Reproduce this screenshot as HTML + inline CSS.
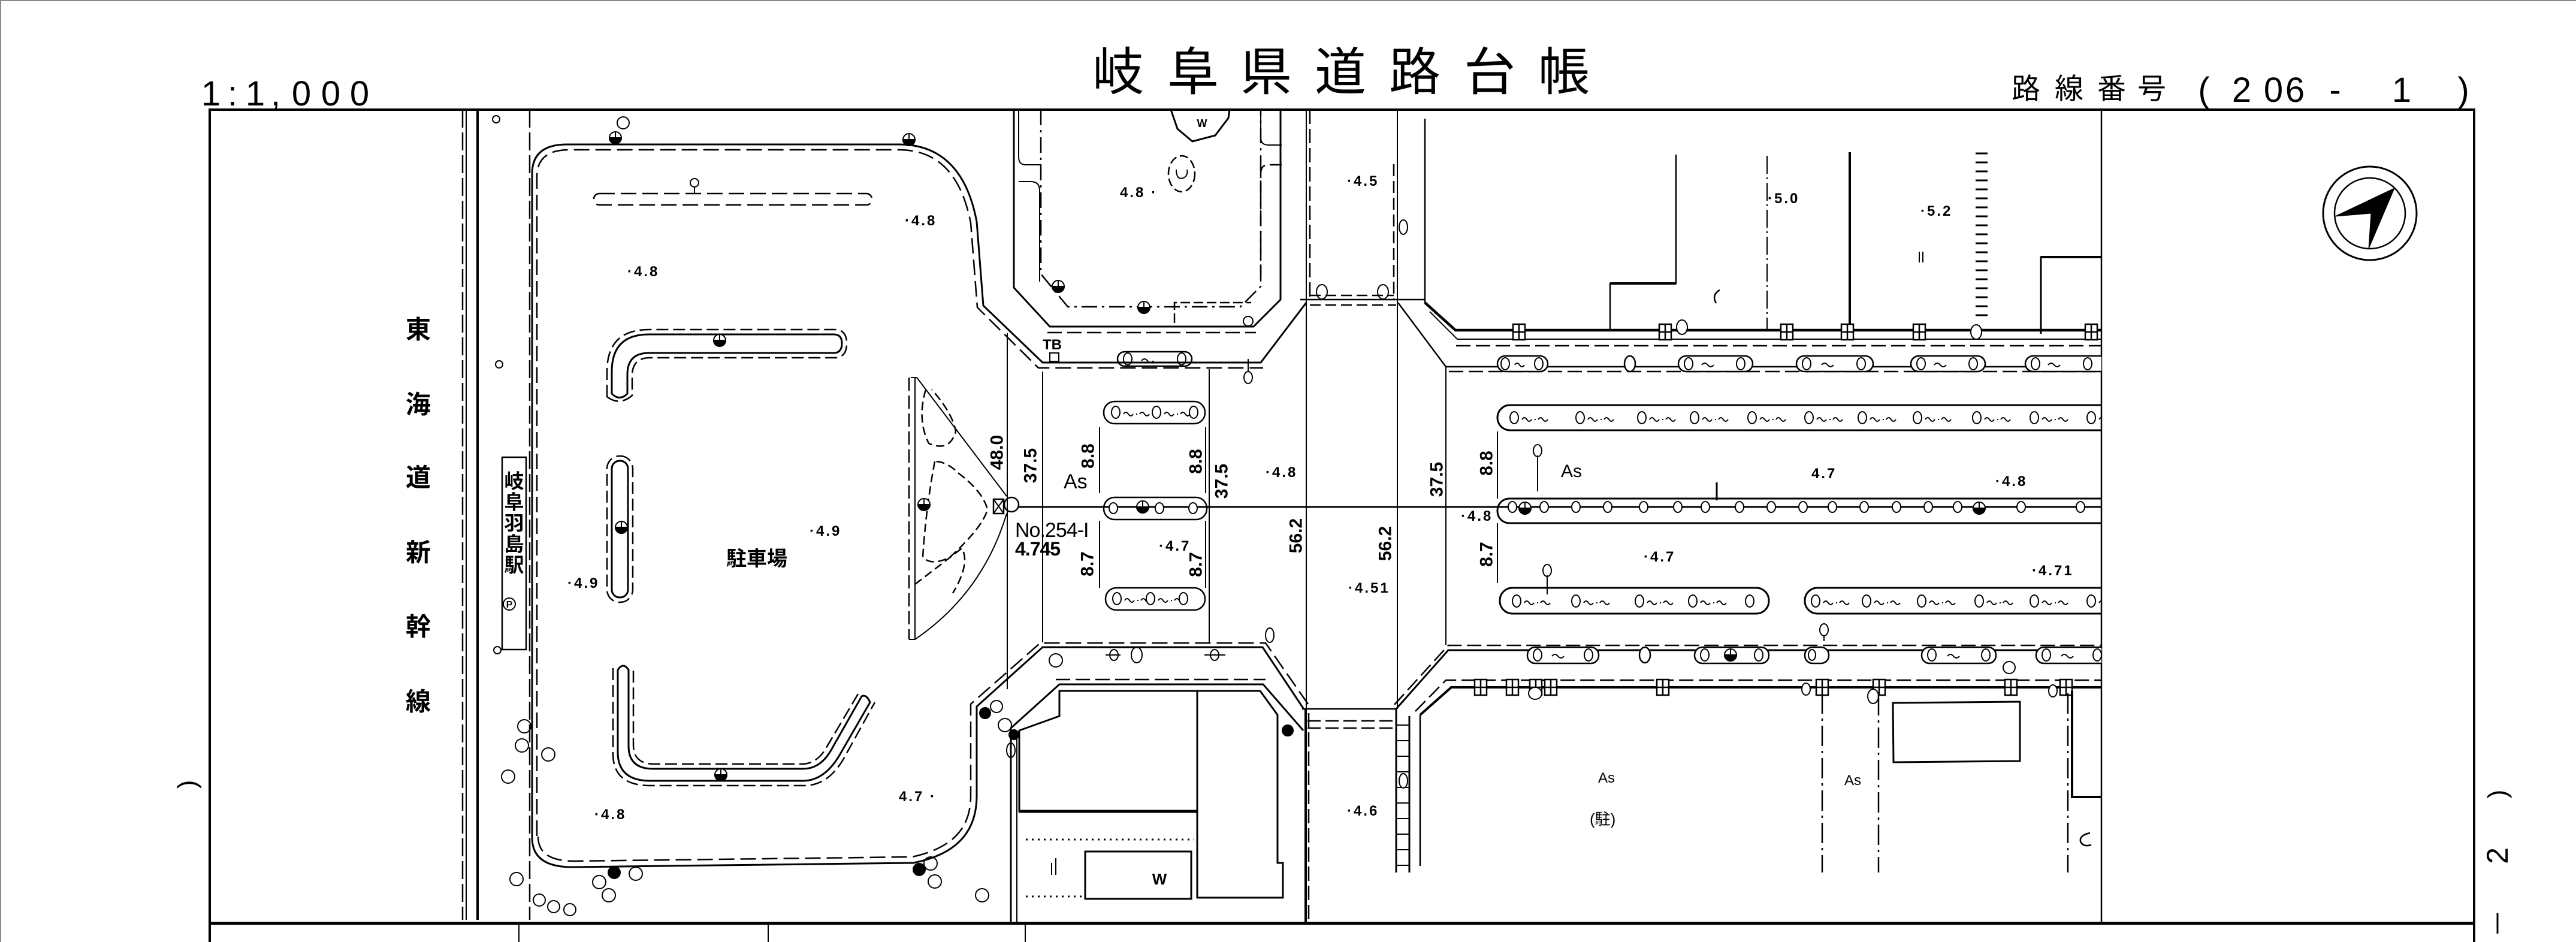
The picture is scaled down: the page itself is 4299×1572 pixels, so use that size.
<!DOCTYPE html>
<html><head><meta charset="utf-8">
<style>
html,body{margin:0;padding:0;background:#fff;}
svg{display:block}
text{font-family:"Liberation Sans","Noto Sans CJK JP",sans-serif;fill:#000;stroke:none}
.n{font-size:24px;font-weight:bold;letter-spacing:3px}
.d{font-size:30px;font-weight:bold}
.k{font-family:"Liberation Sans","Noto Sans CJK JP",sans-serif}
</style></head>
<body>
<svg width="4299" height="1572" viewBox="0 0 4299 1572" xmlns="http://www.w3.org/2000/svg">
<defs>
<clipPath id="cl"><rect x="350" y="183" width="3157" height="1358"/></clipPath>
<g id="hf" stroke="#000" stroke-width="2"><circle r="10" fill="#fff"/><path d="M-10,0 A10,10 0 0,0 10,0 z" fill="#000"/><path d="M0,-10V0M-10,0H10"/></g>
<g id="ow" stroke="#000" stroke-width="2" fill="none"><ellipse rx="7" ry="10" fill="#fff"/><path d="M13,3 q4,-6 8,0 t8,0 M34,3 h2 M40,3 q4,-6 8,0 t8,0"/></g>
<g id="fb" stroke="#000" stroke-width="2.5" fill="#fff"><rect x="-10" y="-13" width="20" height="26"/><path d="M0,-13V13M-10,0H10" fill="none"/></g>
<g id="ci" stroke="#000" stroke-width="2" fill="#fff"><ellipse rx="7" ry="9"/></g>
<g id="cc" stroke="#000" stroke-width="2" fill="#fff"><circle r="11"/></g>
</defs>

<!-- image border -->
<path d="M0,1 H4299 M1,0 V1572" stroke="#888" stroke-width="2" fill="none"/>

<!-- header text -->
<g font-size="58" font-family="Liberation Sans, sans-serif" text-anchor="middle">
<text x="352" y="176">1</text><text x="388" y="176">:</text><text x="426" y="176">1</text><text x="460" y="176">,</text><text x="503" y="176">0</text><text x="552" y="176">0</text><text x="600" y="176">0</text>
</g>
<g font-size="86" text-anchor="middle" dominant-baseline="central">
<text x="1866" y="121">岐</text><text x="1991" y="121">阜</text><text x="2113" y="121">県</text><text x="2237" y="121">道</text><text x="2361" y="121">路</text><text x="2486" y="121">台</text><text x="2610" y="121">帳</text>
</g>
<g font-size="48" text-anchor="middle" dominant-baseline="central">
<text x="3381" y="149">路</text><text x="3453" y="149">線</text><text x="3524" y="149">番</text><text x="3591" y="149">号</text>
</g>
<g font-size="58" text-anchor="middle">
<text x="3678" y="170">(</text><text x="3741" y="170">2</text><text x="3794" y="170">0</text><text x="3830" y="170">6</text><text x="3897" y="170">-</text><text x="4008" y="170">1</text><text x="4111" y="170">)</text>
</g>
<text x="319" y="1309" font-size="44" text-anchor="middle" dominant-baseline="central" transform="rotate(90 319 1309)">(</text>
<text x="4168" y="1325" font-size="44" text-anchor="middle" dominant-baseline="central" transform="rotate(-90 4168 1325)">)</text>
<text x="4168" y="1428" font-size="50" text-anchor="middle" dominant-baseline="central" transform="rotate(-90 4168 1428)">2</text>
<line x1="4168" y1="1524" x2="4168" y2="1558" stroke="#000" stroke-width="3"/>

<!-- frame -->
<g stroke="#000" fill="none">
<path d="M350,1572 V183 H4129 V1572" stroke-width="4"/>
<line x1="350" y1="1541" x2="4129" y2="1541" stroke-width="5"/>
<line x1="3507" y1="183" x2="3507" y2="1541" stroke-width="2.5"/>
<path d="M866,1541V1572M1282,1541V1572M1711,1541V1572" stroke-width="2"/>
</g>

<g clip-path="url(#cl)" stroke="#000" fill="none" stroke-width="2.5">

<!-- rail -->
<line x1="772" y1="183" x2="772" y2="1535" stroke-dasharray="30 8"/>
<line x1="778" y1="183" x2="778" y2="1535" stroke-width="2"/>
<line x1="797" y1="183" x2="797" y2="1535" stroke-width="4"/>
<line x1="884" y1="183" x2="884" y2="1535" stroke-dasharray="30 8"/>
<circle cx="828" cy="199" r="6" stroke-width="2"/>
<circle cx="833" cy="608" r="6" stroke-width="2"/>

<!-- station box -->
<rect x="838" y="763" width="40" height="321" stroke-width="2.5"/>
<circle cx="830" cy="1085" r="6" stroke-width="2"/>
<circle cx="850" cy="1008" r="10" stroke-width="2"/>

<!-- parking outline -->
<path d="M888,1398 L888,290 Q888,241 946,241 L1500,241 C1575,241 1615,290 1630,370 L1641,510 L1740,605 L2104,605 L2180,505" stroke-width="3"/>
<path d="M896,1395 L896,295 Q896,250 950,250 L1500,250 C1568,250 1605,295 1620,372 L1631,513 L1733,614 L2108,614" stroke-dasharray="26 10"/>
<path d="M888,1398 Q888,1447 955,1447 L1524,1440 C1600,1425 1630,1385 1630,1328 L1630,1179 L1740,1080 L2107,1080 L2175,1182" stroke-width="3"/>
<path d="M898,1396 Q898,1437 958,1437 L1522,1430 C1592,1415 1620,1380 1620,1328 L1620,1175 L1736,1073 L2112,1073 L2183,1175" stroke-dasharray="26 10"/>

<!-- parking islands -->
<rect x="991" y="323" width="464" height="19" rx="9" stroke-dasharray="26 10"/>
<path d="M1159,323 V312" stroke-width="2"/><circle cx="1159" cy="305" r="7" stroke-width="2"/>
<path d="M1021,657 L1021,620 Q1021,558 1083,558 L1391,558 Q1405,558 1405,573 Q1405,589 1391,589 L1083,589 Q1047,589 1047,625 L1047,657 Q1034,670 1021,657 z" stroke-width="3"/>
<path d="M1013,662 L1013,620 Q1013,550 1083,550 L1393,550 Q1413,550 1413,573 Q1413,597 1393,597 L1085,597 Q1055,597 1055,627 L1055,660 Q1034,678 1013,662 z" stroke-dasharray="20 8"/>
<rect x="1021" y="769" width="27" height="228" rx="13" stroke-width="3"/>
<rect x="1013" y="761" width="43" height="244" rx="21" stroke-dasharray="20 8"/>
<path d="M1031,1118 L1031,1255 Q1031,1303 1085,1303 L1340,1303 Q1375,1303 1400,1262 L1452,1172 Q1446,1158 1438,1162 L1388,1250 Q1370,1283 1340,1283 L1090,1283 Q1049,1283 1049,1245 L1049,1118 Q1040,1104 1031,1118 z" stroke-width="3"/>
<path d="M1023,1115 L1023,1258 Q1023,1311 1085,1311 L1342,1311 Q1382,1311 1408,1266 L1460,1172 M1432,1158 L1380,1246 Q1364,1275 1338,1275 L1092,1275 Q1057,1275 1057,1243 L1057,1115" stroke-dasharray="20 8"/>

<!-- top-center block -->
<path d="M1692,183 L1692,480 L1752,545 L2092,545 L2137,500 L2137,183" stroke-width="3"/>
<path d="M1737,183 L1737,457 L1782,512 L2070,512 L2104,478 L2104,183" stroke-dasharray="26 8 4 8"/>
<path d="M1748,555 L2096,555" stroke-dasharray="24 9"/>
<path d="M1700,183 V262 Q1700,275 1712,275 L1738,275" stroke-width="2"/>
<path d="M1700,303 L1720,303 Q1735,303 1735,318 L1735,470" stroke-width="2"/>
<path d="M2104,183 V230 Q2104,242 2117,242 L2139,242" stroke-width="2"/>
<path d="M2139,275 L2117,275 Q2104,275 2104,290 L2104,470" stroke-dasharray="20 8"/>
<path d="M1960,539 V505 H2088" stroke-dasharray="16 6"/>
<path d="M1954,183 L1965,215 L1990,236 L2028,226 L2050,197 L2052,183" stroke-width="3"/>
<ellipse cx="1972" cy="290" rx="22" ry="30" stroke-dasharray="14 6"/>
<path d="M1963,283 q0,18 12,14 q8,-4 6,-14" stroke-width="2"/>

<!-- cross road verticals -->
<line x1="2180" y1="183" x2="2180" y2="1541" stroke-width="2"/>
<line x1="2186" y1="183" x2="2186" y2="500" stroke-dasharray="24 8"/>
<line x1="2332" y1="183" x2="2332" y2="1183" stroke-width="2"/>
<line x1="2378" y1="198" x2="2378" y2="505" stroke-width="2.5"/>
<line x1="2326" y1="274" x2="2326" y2="500" stroke-dasharray="20 8"/>
<ellipse cx="2342" cy="379" rx="7" ry="12" stroke-width="2"/>
<path d="M2170,500 H2378" stroke-width="2.5"/>
<path d="M2186,493 H2326 M2186,509 H2330" stroke-dasharray="18 8"/>
<ellipse cx="2206" cy="487" rx="9" ry="12" stroke-width="2"/><ellipse cx="2308" cy="487" rx="9" ry="12" stroke-width="2"/>
<path d="M2173,1183 H2330" stroke-width="2.5"/>
<path d="M2182,1203 H2328 M2182,1215 H2328" stroke-dasharray="22 8"/>
<line x1="2178" y1="1183" x2="2178" y2="1541" stroke-width="2"/>
<line x1="2184" y1="1190" x2="2184" y2="1541" stroke-dasharray="24 8"/>

<!-- left road -->
<line x1="1681" y1="556" x2="1681" y2="1150" stroke-width="2"/>
<line x1="1740" y1="620" x2="1740" y2="1072" stroke-width="2"/>
<line x1="2018" y1="616" x2="2018" y2="1074" stroke-width="2"/>
<path d="M1835,713 V823 M1835,869 V981 M2012,713 V823 M2012,869 V981" stroke-width="2"/>
<rect x="1865" y="587" width="124" height="24" rx="12" stroke-width="2.5"/>
<ellipse cx="1882" cy="599" rx="7" ry="10" stroke-width="2"/><ellipse cx="1972" cy="599" rx="7" ry="10" stroke-width="2"/>
<path d="M1905,602 q5,-6 10,0 t10,0" stroke-width="2"/>
<path d="M2083,599 V620" stroke-width="2"/><ellipse cx="2083" cy="630" rx="7" ry="10" stroke-width="2"/>
<rect x="1752" y="589" width="15" height="14" stroke-width="2"/>
<rect x="1842" y="670" width="169" height="37" rx="18" stroke-width="2.5"/>
<rect x="1842" y="830" width="172" height="37" rx="18" stroke-width="2.5"/>
<rect x="1845" y="981" width="166" height="37" rx="18" stroke-width="2.5"/>

<!-- triangle island -->
<line x1="1517" y1="630" x2="1517" y2="1067" stroke-dasharray="22 8"/>
<line x1="1527" y1="630" x2="1527" y2="1067" stroke-width="2"/>
<path d="M1520,630 H1530 L1680,828" stroke-width="2"/>
<path d="M1680,857 Q1640,990 1527,1067 H1517" stroke-width="2"/>
<path d="M1545,650 Q1530,700 1550,740 Q1585,755 1595,720 Q1590,690 1555,650" stroke-dasharray="14 7"/>
<path d="M1560,770 Q1545,850 1540,930 Q1555,945 1585,930 Q1640,880 1648,850 Q1640,820 1600,790 Q1580,770 1560,770" stroke-dasharray="14 7"/>
<path d="M1527,975 Q1560,950 1605,915 Q1620,940 1590,990" stroke-dasharray="14 7"/>
<rect x="1658" y="833" width="17" height="24" stroke-width="2.5"/>
<path d="M1658,833 L1675,857 M1675,833 L1658,857" stroke-width="2"/>
<circle cx="1688" cy="842" r="12" stroke-width="2.5"/>

<!-- centerline -->
<line x1="1700" y1="846" x2="3507" y2="846" stroke-width="3"/>

<!-- left road symbols in medians -->
<use href="#ow" x="1862" y="688"/><use href="#ow" x="1930" y="688"/><ellipse cx="1992" cy="688" rx="7" ry="10" stroke-width="2" fill="#fff"/>
<use href="#ci" x="1858" y="848"/><use href="#hf" x="1907" y="846"/><use href="#ci" x="1935" y="848"/><use href="#ci" x="1991" y="848"/>
<use href="#ow" x="1864" y="999"/><use href="#ow" x="1920" y="999"/><ellipse cx="1975" cy="999" rx="7" ry="10" stroke-width="2" fill="#fff"/>

<!-- bottom-center block -->
<path d="M1687,1541 L1687,1215 L1768,1142 L2108,1142 L2175,1219" stroke-width="3"/>
<path d="M1697,1541 L1697,1230" stroke-width="2"/>
<path d="M1762,1134 H2112" stroke-dasharray="24 9"/>
<path d="M1701,1219 L1768,1195 L1768,1153 L1998,1153 L1998,1354 L1701,1354 Z" stroke-width="3"/>
<line x1="1701" y1="1354" x2="1998" y2="1354" stroke-width="5"/>
<path d="M1998,1153 L2103,1153 L2132,1193 L2132,1440 L2141,1440 L2141,1498 L1998,1498 Z" stroke-width="3"/>
<rect x="1811" y="1421" width="177" height="79" stroke-width="3"/>
<path d="M1712,1401 H1993 M1712,1496 H1811" stroke-dasharray="3 7" stroke-width="3"/>
<path d="M1755,1440 v20 M1762,1432 v28" stroke-width="2"/>

<!-- cross road lower right -->
<path d="M2330,1183 L2417,1085 L3507,1085" stroke-width="3"/>
<path d="M2327,1176 L2417,1077 L3507,1077" stroke-dasharray="24 9"/>
<line x1="2330" y1="1183" x2="2330" y2="1456" stroke-width="3"/>
<line x1="2352" y1="1195" x2="2352" y2="1456" stroke-width="3"/>
<path d="M2330,1210 H2352 M2330,1236 H2352 M2330,1262 H2352 M2330,1288 H2352 M2330,1314 H2352 M2330,1340 H2352 M2330,1366 H2352 M2330,1392 H2352 M2330,1418 H2352 M2330,1444 H2352" stroke-width="2"/>
<line x1="2370" y1="1193" x2="2370" y2="1445" stroke-width="2.5"/>
<path d="M2370,1193 L2422,1147 L3507,1147" stroke-width="4"/>
<path d="M2362,1187 L2413,1135 L3507,1135" stroke-dasharray="24 9"/>
<ellipse cx="2342" cy="1303" rx="7" ry="12" stroke-width="2" fill="#fff"/>

<!-- right road top -->
<path d="M2378,505 L2429,551 L3507,551" stroke-width="4.5"/>
<path d="M2386,520 L2432,566 L3507,566" stroke-width="2"/>
<path d="M2430,577 H3507" stroke-dasharray="24 9"/>
<path d="M2333,505 L2413,612 L3507,612" stroke-width="2.5"/>
<path d="M2418,620 H3507" stroke-dasharray="24 9"/>
<line x1="2413" y1="612" x2="2413" y2="1076" stroke-width="2"/>
<path d="M2499,720 V832 M2499,873 V973" stroke-width="2"/>

<!-- top-right block -->
<path d="M2687,551 V473 H2797 V258" stroke-width="2.5"/>
<line x1="2687" y1="473" x2="2797" y2="473" stroke-width="4"/>
<line x1="2949" y1="260" x2="2949" y2="553" stroke-width="2" stroke-dasharray="30 6 3 6"/>
<line x1="3087" y1="254" x2="3087" y2="553" stroke-width="4"/>
<path d="M3297,256 h20 M3297,271 h20 M3297,286 h20 M3297,301 h20 M3297,316 h20 M3297,331 h20 M3297,346 h20 M3297,361 h20 M3297,376 h20 M3297,391 h20 M3297,406 h20 M3297,421 h20 M3297,436 h20 M3297,451 h20 M3297,466 h20 M3297,481 h20 M3297,496 h20 M3297,511 h20 M3297,526 h20" stroke-width="3"/>
<path d="M3406,557 V429 H3507" stroke-width="3"/>
<line x1="3406" y1="429" x2="3507" y2="429" stroke-width="4"/>
<path d="M3203,420 v18 M3209,420 v18" stroke-width="2"/>
<path d="M2870,484 q-14,8 -6,22" stroke-width="2.5"/>

<!-- fences / circles top row -->
<use href="#fb" x="2535" y="554"/><use href="#fb" x="2779" y="554"/><use href="#fb" x="2982" y="554"/><use href="#fb" x="3083" y="554"/><use href="#fb" x="3203" y="554"/><use href="#fb" x="3490" y="554"/>
<ellipse cx="2807" cy="546" rx="9" ry="12" stroke-width="2" fill="#fff"/><ellipse cx="3298" cy="554" rx="9" ry="12" stroke-width="2" fill="#fff"/>
<!-- top sidewalk ovals -->
<g stroke-width="2.5" fill="#fff">
<rect x="2499" y="594" width="84" height="26" rx="13"/>
<rect x="2801" y="594" width="124" height="26" rx="13"/>
<rect x="2998" y="594" width="128" height="26" rx="13"/>
<rect x="3189" y="594" width="124" height="26" rx="13"/>
<rect x="3380" y="594" width="140" height="26" rx="13"/>
<ellipse cx="2720" cy="607" rx="9" ry="13"/>
</g>
<g stroke-width="2">
<ellipse cx="2512" cy="607" rx="7" ry="10"/><ellipse cx="2568" cy="607" rx="7" ry="10"/><path d="M2528,609 q4,-6 8,0 t8,0"/>
<ellipse cx="2818" cy="607" rx="7" ry="10"/><ellipse cx="2905" cy="607" rx="7" ry="10"/><path d="M2840,609 q5,-6 10,0 t10,0"/>
<ellipse cx="3015" cy="607" rx="7" ry="10"/><ellipse cx="3106" cy="607" rx="7" ry="10"/><path d="M3040,609 q5,-6 10,0 t10,0"/>
<ellipse cx="3206" cy="607" rx="7" ry="10"/><ellipse cx="3293" cy="607" rx="7" ry="10"/><path d="M3228,609 q5,-6 10,0 t10,0"/>
<ellipse cx="3397" cy="607" rx="7" ry="10"/><ellipse cx="3484" cy="607" rx="7" ry="10"/><path d="M3418,609 q5,-6 10,0 t10,0"/>
</g>

<!-- right medians -->
<rect x="2499" y="676" width="1100" height="42" rx="21" stroke-width="3"/>
<rect x="2499" y="832" width="1100" height="41" rx="20" stroke-width="3"/>
<rect x="2503" y="981" width="449" height="43" rx="21" stroke-width="3"/>
<rect x="3012" y="981" width="600" height="43" rx="21" stroke-width="3"/>
<use href="#ow" x="2527" y="697"/><use href="#ow" x="2637" y="697"/><use href="#ow" x="2740" y="697"/><use href="#ow" x="2828" y="697"/><use href="#ow" x="2924" y="697"/><use href="#ow" x="3019" y="697"/><use href="#ow" x="3108" y="697"/><use href="#ow" x="3200" y="697"/><use href="#ow" x="3299" y="697"/><use href="#ow" x="3395" y="697"/><use href="#ow" x="3490" y="697"/>
<use href="#ci" x="2524" y="846"/><use href="#hf" x="2545" y="848"/><use href="#ci" x="2577" y="846"/><use href="#ci" x="2630" y="846"/><use href="#ci" x="2683" y="846"/><use href="#ci" x="2743" y="846"/><use href="#ci" x="2800" y="846"/><use href="#ci" x="2846" y="846"/><use href="#ci" x="2903" y="846"/><use href="#ci" x="2956" y="846"/><use href="#ci" x="3009" y="846"/><use href="#ci" x="3058" y="846"/><use href="#ci" x="3111" y="846"/><use href="#ci" x="3165" y="846"/><use href="#ci" x="3218" y="846"/><use href="#ci" x="3267" y="846"/><use href="#hf" x="3303" y="848"/><use href="#ci" x="3373" y="846"/><use href="#ci" x="3472" y="846"/>
<path d="M2865,805 V835" stroke-width="3"/>
<use href="#ow" x="2531" y="1003"/><use href="#ow" x="2630" y="1003"/><use href="#ow" x="2736" y="1003"/><use href="#ow" x="2825" y="1003"/><ellipse cx="2920" cy="1003" rx="7" ry="10" stroke-width="2"/>
<use href="#ow" x="3030" y="1003"/><use href="#ow" x="3115" y="1003"/><use href="#ow" x="3207" y="1003"/><use href="#ow" x="3303" y="1003"/><use href="#ow" x="3395" y="1003"/><use href="#ow" x="3490" y="1003"/>
<path d="M2566,820 V760" stroke-width="2"/><ellipse cx="2566" cy="752" rx="7" ry="10" stroke-width="2"/>
<path d="M2582,992 V960" stroke-width="2"/><ellipse cx="2582" cy="952" rx="7" ry="10" stroke-width="2"/>

<!-- bottom sidewalk ovals -->
<g stroke-width="2.5" fill="#fff">
<rect x="2549" y="1080" width="119" height="27" rx="13"/>
<rect x="2828" y="1080" width="124" height="27" rx="13"/>
<rect x="3012" y="1080" width="40" height="27" rx="13"/>
<rect x="3207" y="1080" width="124" height="27" rx="13"/>
<rect x="3398" y="1080" width="130" height="27" rx="13"/>
<ellipse cx="2745" cy="1093" rx="9" ry="13"/>
</g>
<g stroke-width="2">
<ellipse cx="2566" cy="1093" rx="7" ry="10"/><ellipse cx="2651" cy="1093" rx="7" ry="10"/><path d="M2590,1095 q5,-6 10,0 t10,0"/>
<ellipse cx="2845" cy="1093" rx="7" ry="10"/><use href="#hf" x="2888" y="1093"/><ellipse cx="2935" cy="1093" rx="7" ry="10"/>
<ellipse cx="3024" cy="1093" rx="6" ry="9"/>
<ellipse cx="3224" cy="1093" rx="7" ry="10"/><ellipse cx="3314" cy="1093" rx="7" ry="10"/><path d="M3250,1095 q5,-6 10,0 t10,0"/>
<ellipse cx="3415" cy="1093" rx="7" ry="10"/><ellipse cx="3500" cy="1093" rx="7" ry="10"/><path d="M3440,1095 q5,-6 10,0 t10,0"/>
<path d="M3044,1070 V1060"/><ellipse cx="3044" cy="1051" rx="7" ry="10"/>
</g>
<!-- bottom fence row -->
<use href="#fb" x="2471" y="1147"/><use href="#fb" x="2524" y="1147"/><use href="#fb" x="2563" y="1147"/><use href="#fb" x="2588" y="1147"/><use href="#fb" x="2775" y="1147"/><use href="#fb" x="3041" y="1147"/><use href="#fb" x="3136" y="1147"/><use href="#fb" x="3356" y="1147"/><use href="#fb" x="3448" y="1147"/>
<ellipse cx="2562" cy="1157" rx="11" ry="10" stroke-width="2" fill="#fff"/>
<ellipse cx="3014" cy="1150" rx="7" ry="10" stroke-width="2" fill="#fff"/>
<ellipse cx="3126" cy="1162" rx="9" ry="12" stroke-width="2" fill="#fff"/>
<ellipse cx="3426" cy="1153" rx="7" ry="10" stroke-width="2" fill="#fff"/>
<circle cx="3353" cy="1114" r="10" stroke-width="2"/>

<!-- bottom right area -->
<g stroke-width="2.5" stroke-dasharray="34 8 4 8">
<line x1="3041" y1="1157" x2="3041" y2="1456"/>
<line x1="3135" y1="1160" x2="3135" y2="1456"/>
<line x1="3451" y1="1157" x2="3451" y2="1456"/>
</g>
<path d="M3159,1173 L3371,1171 L3371,1270 L3160,1272 Z" stroke-width="3"/>
<path d="M3458,1153 V1330 H3507" stroke-width="4"/>
<path d="M3488,1390 q-18,4 -16,14 q4,10 18,6" stroke-width="2.5"/>

<!-- compass placeholder handled outside clip -->

<!-- symbols -->
<g stroke-width="2">
<use href="#hf" x="1027" y="230"/><circle cx="1040" cy="205" r="10"/>
<use href="#hf" x="1517" y="233"/>
<use href="#hf" x="1766" y="478"/><use href="#hf" x="1909" y="513"/>
<circle cx="2083" cy="536" r="8" fill="#fff"/>
<use href="#hf" x="1201" y="568"/><use href="#hf" x="1037" y="880"/><use href="#hf" x="1203" y="1293"/>
<use href="#hf" x="1542" y="842"/>
<circle cx="875" cy="1212" r="11"/><circle cx="871" cy="1244" r="11"/><circle cx="915" cy="1259" r="11"/><circle cx="848" cy="1296" r="11"/>
<circle cx="862" cy="1467" r="11"/><circle cx="1000" cy="1472" r="11"/><circle cx="1016" cy="1494" r="11"/>
<circle cx="1025" cy="1456" r="10" fill="#000"/><circle cx="1061" cy="1458" r="11"/>
<circle cx="900" cy="1502" r="10"/><circle cx="924" cy="1513" r="10"/><circle cx="951" cy="1518" r="10"/>
<circle cx="1553" cy="1441" r="11"/><circle cx="1534" cy="1451" r="10" fill="#000"/><circle cx="1560" cy="1471" r="11"/><circle cx="1639" cy="1494" r="11"/>
<circle cx="1663" cy="1179" r="10"/><circle cx="1644" cy="1190" r="9" fill="#000"/><circle cx="1677" cy="1210" r="11"/><circle cx="1692" cy="1226" r="8" fill="#000"/><ellipse cx="1687" cy="1252" rx="7" ry="12"/>
<circle cx="1762" cy="1102" r="11"/>
<ellipse cx="1859" cy="1093" rx="7" ry="9"/><ellipse cx="1897" cy="1093" rx="9" ry="13"/><ellipse cx="2027" cy="1093" rx="7" ry="9"/>
<path d="M1845,1093 H1870 M2010,1093 H2045"/>
<circle cx="2149" cy="1219" r="9" fill="#000"/>
<ellipse cx="2119" cy="1060" rx="7" ry="12"/>
</g>
</g>

<!-- compass -->
<g stroke="#000" fill="none">
<circle cx="3955" cy="356" r="78" stroke-width="3"/>
<circle cx="3955" cy="356" r="59" stroke-width="2.5"/>
<path d="M3996,314 L3897,361 L3957,356 L3953,415 Z" fill="#000"/>
</g>

<!-- labels -->
<g font-size="42" font-weight="bold" text-anchor="middle" dominant-baseline="central">
<text x="698" y="550">東</text><text x="698" y="675">海</text><text x="698" y="797">道</text><text x="698" y="922">新</text><text x="698" y="1046">幹</text><text x="698" y="1171">線</text>
</g>
<g font-size="33" font-weight="bold" text-anchor="middle" dominant-baseline="central">
<text x="858" y="803">岐</text><text x="858" y="838">阜</text><text x="858" y="873">羽</text><text x="858" y="908">島</text><text x="858" y="943">駅</text>
</g>
<text x="850" y="1014" font-size="16" font-weight="bold" text-anchor="middle">P</text>
<text x="1212" y="944" font-size="34" font-weight="bold">駐車場</text>

<text class="n" x="1047" y="461">·4.8</text>
<text class="n" x="1510" y="376">·4.8</text>
<text class="n" x="1869" y="329">4.8 ·</text>
<text class="n" x="2248" y="310">·4.5</text>
<text class="n" x="2950" y="339">·5.0</text>
<text class="n" x="3205" y="360">·5.2</text>
<text class="n" x="1351" y="894">·4.9</text>
<text class="n" x="947" y="981">·4.9</text>
<text class="n" x="992" y="1367">·4.8</text>
<text class="n" x="1500" y="1337">4.7 ·</text>
<text class="n" x="2248" y="1361">·4.6</text>
<text class="n" x="2112" y="796">·4.8</text>
<text class="n" x="1934" y="919">·4.7</text>
<text class="n" x="2250" y="989">·4.51</text>
<text class="n" x="3023" y="798">4.7</text>
<text class="n" x="3330" y="811">·4.8</text>
<text class="n" x="2438" y="869">·4.8</text>
<text class="n" x="2743" y="937">·4.7</text>
<text class="n" x="3391" y="960">·4.71</text>

<text x="1775" y="815" font-size="34">As</text>
<text x="2605" y="796" font-size="30">As</text>
<text x="1694" y="896" font-size="34" letter-spacing="-1">No.254-I</text>
<text x="1694" y="927" font-size="32" font-weight="bold" letter-spacing="-1">4.745</text>
<text x="1740" y="583" font-size="24" font-weight="bold">TB</text>
<text x="1935" y="1476" font-size="26" font-weight="bold" text-anchor="middle">W</text>
<text x="2006" y="212" font-size="18" font-weight="bold" text-anchor="middle">W</text>
<text x="2667" y="1306" font-size="24">As</text>
<text x="2653" y="1376" font-size="26">(駐)</text>
<text x="3078" y="1310" font-size="24">As</text>

<g class="d" text-anchor="middle" dominant-baseline="central">
<text transform="translate(1664,755) rotate(-90)">48.0</text>
<text transform="translate(1720,777) rotate(-90)">37.5</text>
<text transform="translate(1816,761) rotate(-90)">8.8</text>
<text transform="translate(1996,770) rotate(-90)">8.8</text>
<text transform="translate(2039,803) rotate(-90)">37.5</text>
<text transform="translate(1815,941) rotate(-90)">8.7</text>
<text transform="translate(1996,942) rotate(-90)">8.7</text>
<text transform="translate(2163,894) rotate(-90)">56.2</text>
<text transform="translate(2312,907) rotate(-90)">56.2</text>
<text transform="translate(2398,800) rotate(-90)">37.5</text>
<text transform="translate(2481,773) rotate(-90)">8.8</text>
<text transform="translate(2481,925) rotate(-90)">8.7</text>
</g>
</svg>
</body></html>
